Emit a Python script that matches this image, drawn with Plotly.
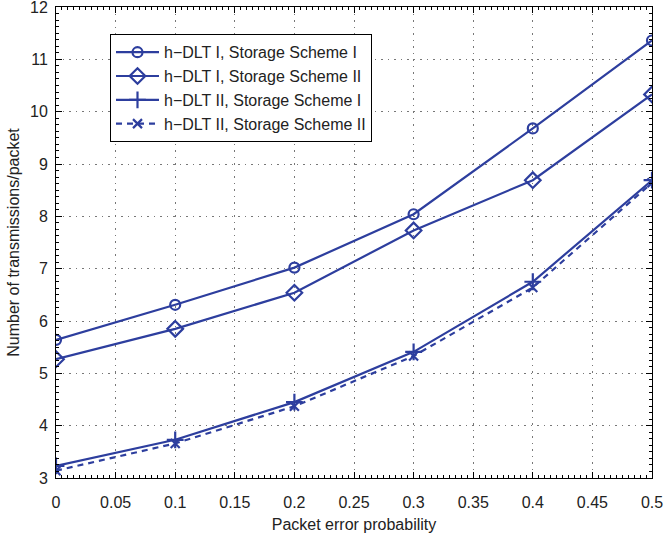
import plotly.graph_objects as go

x_vals = [0, 0.1, 0.2, 0.3, 0.4, 0.5]
s1 = [5.64, 6.31, 7.02, 8.04, 9.68, 11.36]
s2 = [5.27, 5.85, 6.54, 7.73, 8.69, 10.33]
s3 = [3.23, 3.73, 4.45, 5.41, 6.75, 8.69]
s4 = [3.14, 3.66, 4.37, 5.33, 6.64, 8.64]
names = ["h\u2212DLT I, Storage Scheme I", "h\u2212DLT I, Storage Scheme II",
         "h\u2212DLT II, Storage Scheme I", "h\u2212DLT II, Storage Scheme II"]
xticks = [0, 0.05, 0.1, 0.15, 0.2, 0.25, 0.3, 0.35, 0.4, 0.45, 0.5]
xtick_labels = ["0", "0.05", "0.1", "0.15", "0.2", "0.25", "0.3", "0.35", "0.4", "0.45", "0.5"]
yticks = [3, 4, 5, 6, 7, 8, 9, 10, 11, 12]

color = "#2D3E9E"
txt = "#222222"
fam = "Liberation Sans, Arial"
fig = go.Figure()
series = [s1, s2, s3, s4]
symbols = ["circle-open", "diamond-open", "cross-thin-open", "x-thin-open"]
sizes = [10, 12, 12, 9]
dashes = ["solid", "solid", "solid", "6px,5px"]
for ys, nm, sym, sz, d in zip(series, names, symbols, sizes, dashes):
    fig.add_trace(go.Scatter(
        x=x_vals, y=ys, name=nm, mode="lines+markers",
        line=dict(color=color, width=2.2, dash=d),
        marker=dict(symbol=sym, size=sz, color=color, line=dict(color=color, width=2.2)),
    ))

axis_common = dict(
    showline=True, linecolor="black", linewidth=1, mirror="ticks",
    ticks="inside", ticklen=6, tickcolor="black",
    showgrid=True, gridcolor="#777777", griddash="1.5px,5px", gridwidth=1,
    zeroline=False, tickfont=dict(size=16, color=txt, family=fam),
    ticklabeloverflow="allow", automargin=False,
)
fig.update_xaxes(range=[0, 0.5], tickvals=xticks, ticktext=xtick_labels,
                 title=dict(text="Packet error probability", font=dict(size=16, color=txt, family=fam), standoff=8),
                 minor=dict(ticks="inside", ticklen=3, tickcolor="black", dtick=0.005, showgrid=False),
                 ticklabelstandoff=10,
                 **axis_common)
fig.update_yaxes(range=[3, 12], tickvals=yticks,
                 title=dict(text="Number of transmissions/packet", font=dict(size=16, color=txt, family=fam), standoff=6),
                 minor=dict(ticks="inside", ticklen=3, tickcolor="black", dtick=0.125, showgrid=False),
                 ticklabelstandoff=4,
                 **axis_common)
fig.update_layout(
    width=664, height=538,
    margin=dict(l=56, r=12, t=7, b=60, autoexpand=False),
    paper_bgcolor="white", plot_bgcolor="white",
    font=dict(family=fam, size=16, color=txt),
    legend=dict(x=0.0906, y=0.942, xanchor="left", yanchor="top",
                bgcolor="white", bordercolor="black", borderwidth=1,
                font=dict(size=16, color=txt, family=fam), tracegroupgap=0,
                itemwidth=43),
    showlegend=True,
)
fig.write_html("out.html")
